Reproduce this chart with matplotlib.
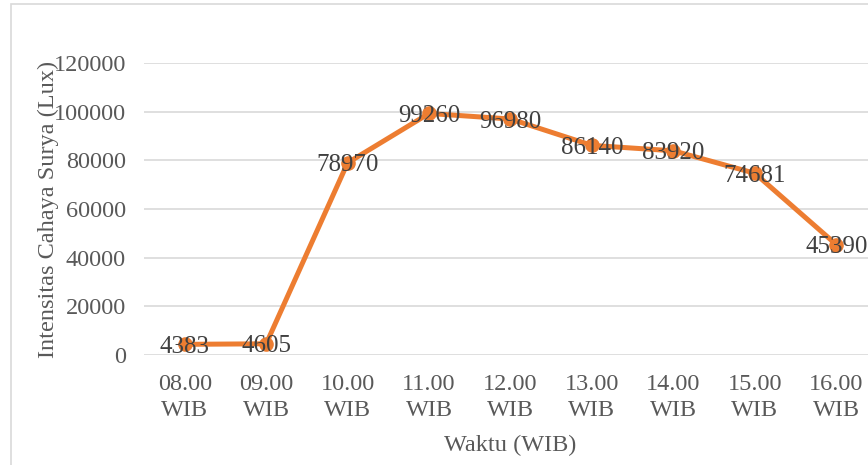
import matplotlib
matplotlib.use("Agg")
import matplotlib.pyplot as plt
from matplotlib.patches import Rectangle

# data
jam = ["08.00\nWIB", "09.00\nWIB", "10.00\nWIB", "11.00\nWIB", "12.00\nWIB",
       "13.00\nWIB", "14.00\nWIB", "15.00\nWIB", "16.00\nWIB"]
lux = [4383, 4605, 78970, 99260, 96980, 86140, 83920, 74681, 45390]
y_ticks = [0, 20000, 40000, 60000, 80000, 100000, 120000]

plt.rcParams['font.family'] = ['Liberation Serif', 'DejaVu Serif']
text_col = "#595959"
grid_col = "#D9D9D9"
orange = "#ED7D31"

W, H = 868, 465
fig = plt.figure(figsize=(W / 100, H / 100), dpi=100)

# grey chart border (cut off on the right and bottom like the original)
fig.patches.append(Rectangle((11 / W, -0.1), 1.2, 1 - 4 / H + 0.1,
                             transform=fig.transFigure, fill=False,
                             edgecolor=grid_col, linewidth=1.2))

# plot area runs slightly past the right edge of the image
left, right = 144, 877
bottom, top = 355, 63
ax = fig.add_axes([left / W, (H - bottom) / H, (right - left) / W, (bottom - top) / H])

x = list(range(len(jam)))
ax.plot(x, lux, color=orange, linewidth=3.6, marker="o", markersize=9.5,
        solid_capstyle="round", solid_joinstyle="round", zorder=3, clip_on=False)

for xi, v in zip(x, lux):
    ax.text(xi, v, str(v), ha="center", va="center_baseline", fontsize=18,
            color="#404040", zorder=4, clip_on=False)

ax.set_xlim(-0.5, len(jam) - 0.5)
ax.set_ylim(0, 120000)
ax.set_yticks(y_ticks)
ax.set_yticklabels([str(t) for t in y_ticks])
ax.set_xticks(x)
ax.set_xticklabels(jam, linespacing=1.3)
ax.tick_params(axis="both", length=0, labelsize=17.5, labelcolor=text_col)
ax.tick_params(axis="y", pad=13)
ax.tick_params(axis="x", pad=14)

ax.grid(axis="y", color=grid_col, linewidth=1.2)
ax.set_axisbelow(True)
for s in ax.spines.values():
    s.set_visible(False)

ax.set_ylabel("Intensitas Cahaya Surya (Lux)", fontsize=17.5, color=text_col, labelpad=-4)
ax.set_xlabel("Waktu (WIB)", fontsize=17.5, color=text_col, labelpad=10)

fig.savefig("out.png", dpi=100)
plt.close(fig)
